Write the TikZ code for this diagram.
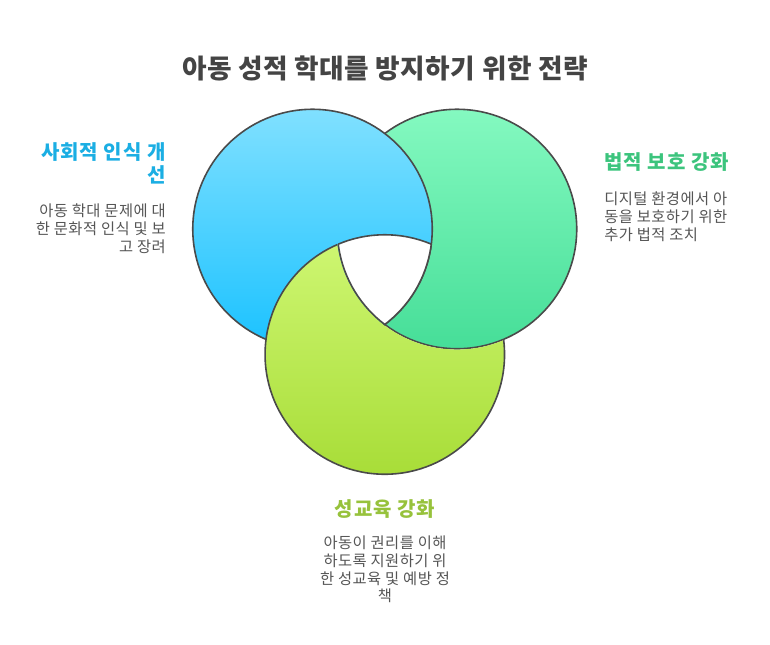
\documentclass[tikz,border=0pt]{standalone}
\usepackage{fontspec}
\setmainfont{Noto Sans CJK KR}
\definecolor{blueT}{RGB}{128,224,255}
\definecolor{blueB}{RGB}{26,194,255}
\definecolor{greenT}{RGB}{132,249,192}
\definecolor{greenB}{RGB}{70,222,152}
\definecolor{yelT}{RGB}{207,247,115}
\definecolor{yelB}{RGB}{168,221,56}
\definecolor{edge}{RGB}{74,74,74}
\definecolor{titlec}{RGB}{68,68,68}
\definecolor{descc}{RGB}{85,85,85}
\definecolor{headB}{RGB}{27,174,227}
\definecolor{headG}{RGB}{60,196,125}
\definecolor{headY}{RGB}{151,194,60}
\tikzset{
  ring/.style={draw=edge, line width=1.2pt},
  titletext/.style={inner sep=0pt, text=titlec, font=\fontsize{20pt}{24pt}\selectfont\bfseries\addfontfeatures{LetterSpace=2}},
  headtext/.style={inner sep=0pt, font=\fontsize{15pt}{18pt}\selectfont\bfseries\addfontfeatures{LetterSpace=5}},
  desctext/.style={inner sep=0pt, text=descc, font=\fontsize{11.5pt}{14pt}\selectfont\addfontfeatures{LetterSpace=3}},
}
\begin{document}
\begin{tikzpicture}[x=0.75pt,y=-0.75pt]
\useasboundingbox (0,0) rectangle (770,644);
\def\R{89.8pt}
\def\Rbig{90.4pt}
\coordinate (B) at (312.5,229);
\coordinate (G) at (457,229);
\coordinate (Y) at (384.8,354.5);
% 1 green
\shade[top color=greenT, bottom color=greenB] (G) circle[radius=\R];
\draw[ring] (G) circle[radius=\R];
% 2 blue over green
\shade[top color=blueT, bottom color=blueB] (B) circle[radius=\R];
\draw[ring] (B) circle[radius=\R];
% 3 yellow over blue, under green
\begin{scope}[even odd rule]
  \clip (0,0) rectangle (770,644) (G) circle[radius=\Rbig];
  \shade[top color=yelT, bottom color=yelB] (Y) circle[radius=\R];
  \draw[ring] (Y) circle[radius=\R];
\end{scope}
% 4 white centre
\begin{scope}
  \clip (B) circle[radius=\R];
  \clip (G) circle[radius=\R];
  \fill[white] (Y) circle[radius=\R];
  \draw[ring] (Y) circle[radius=\R];
\end{scope}
% 5 restroke the centre's sides
\begin{scope}
  \clip (Y) circle[radius=\R];
  \clip (G) circle[radius=\Rbig];
  \draw[ring] (B) circle[radius=\R];
\end{scope}
\begin{scope}
  \clip (Y) circle[radius=\R];
  \clip (B) circle[radius=\Rbig];
  \draw[ring] (G) circle[radius=\R];
\end{scope}
% texts
\node[titletext] (title) at (385,68) {아동 성적 학대를 방지하기 위한 전략};
\node[headtext, text=headB, anchor=east] (lh1) at (166,152) {사회적 인식 개};
\node[headtext, text=headB, anchor=east] (lh2) at (166,175) {선};
\node[desctext, anchor=east] (ld1) at (166,211) {아동 학대 문제에 대};
\node[desctext, anchor=east] (ld2) at (166,229) {한 문화적 인식 및 보};
\node[desctext, anchor=east] (ld3) at (166,247) {고 장려};
\node[headtext, text=headG, anchor=west] (rh1) at (604,162) {법적 보호 강화};
\node[desctext, anchor=west] (rd1) at (604,199) {디지털 환경에서 아};
\node[desctext, anchor=west] (rd2) at (604,217) {동을 보호하기 위한};
\node[desctext, anchor=west] (rd3) at (604,235) {추가 법적 조치};
\node[headtext, text=headY] (bh1) at (385,509) {성교육 강화};
\node[desctext] (bd1) at (385,543) {아동이 권리를 이해};
\node[desctext] (bd2) at (385,561) {하도록 지원하기 위};
\node[desctext] (bd3) at (385,579) {한 성교육 및 예방 정};
\node[desctext] (bd4) at (385,596) {책};
\end{tikzpicture}
\end{document}
